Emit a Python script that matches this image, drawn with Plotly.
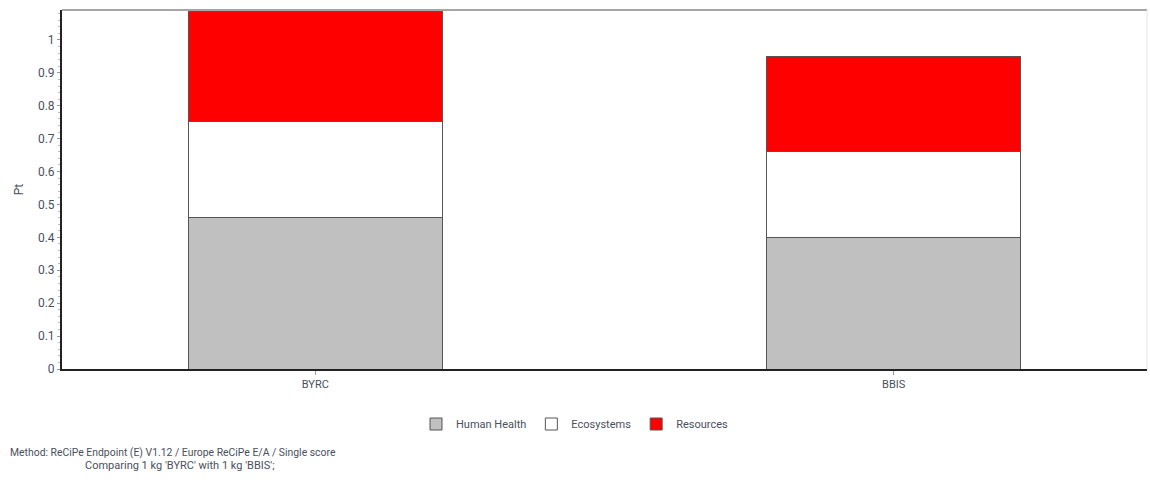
import plotly.graph_objects as go

# Single-score results per product (Pt)
products = ["BYRC", "BBIS"]
human_health = [0.459, 0.399]
ecosystems = [0.292, 0.261]
resources = [0.334, 0.291]

y_ticks = [0, 0.1, 0.2, 0.3, 0.4, 0.5, 0.6, 0.7, 0.8, 0.9, 1]

FONT = "Roboto, Liberation Sans, Arial, sans-serif"
TEXT = "#4a4f5c"
EDGE = dict(color="#555555", width=1)

fig = go.Figure()
fig.add_trace(go.Bar(name="Human Health", x=products, y=human_health,
                     marker=dict(color="#c0c0c0", line=EDGE), width=0.44))
fig.add_trace(go.Bar(name="Ecosystems", x=products, y=ecosystems,
                     marker=dict(color="#ffffff", line=EDGE), width=0.44))
fig.add_trace(go.Bar(name="Resources", x=products, y=resources,
                     marker=dict(color="#ff0000", line=EDGE), width=0.44))

fig.update_layout(
    barmode="stack",
    width=1150, height=498,
    margin=dict(l=62, r=3, t=10, b=129),
    plot_bgcolor="white", paper_bgcolor="white",
    font=dict(family=FONT, size=12, color=TEXT),
    showlegend=True,
    legend=dict(orientation="h", x=0.5, xref="container", xanchor="center",
                y=1 - 424 / 498, yref="container", yanchor="middle",
                font=dict(family=FONT, size=11, color=TEXT),
                itemwidth=30, traceorder="normal"),
    xaxis=dict(
        type="category", range=[-0.438, 1.438],
        showline=True, linecolor="#222222", linewidth=2,
        ticks="outside", ticklen=4, tickcolor="#999999",
        showgrid=False, zeroline=False,
        tickfont=dict(family=FONT, size=11, color=TEXT),
    ),
    yaxis=dict(
        range=[0, 1.091],
        tickvals=y_ticks,
        showline=True, linecolor="#222222", linewidth=2,
        ticks="outside", ticklen=3, tickcolor="#999999",
        minor=dict(dtick=0.02, ticks="outside", ticklen=2, tickcolor="#bbbbbb"),
        showgrid=False, zeroline=False,
        tickfont=dict(family=FONT, size=12, color=TEXT),
        title=dict(text="Pt", font=dict(family=FONT, size=12, color=TEXT), standoff=12),
    ),
    shapes=[
        dict(type="line", xref="paper", yref="paper", x0=0, x1=1, y0=1, y1=1,
             line=dict(color="#888888", width=1.5)),
        dict(type="line", xref="paper", yref="paper", x0=1, x1=1, y0=0, y1=1,
             line=dict(color="#e4e4e4", width=1)),
    ],
    annotations=[
        dict(text="Method: ReCiPe Endpoint (E) V1.12 / Europe ReCiPe E/A / Single score",
             xref="paper", yref="paper", x=-54 / 1085, y=-83 / 359,
             xanchor="left", yanchor="middle", showarrow=False,
             font=dict(family=FONT, size=10.4, color=TEXT)),
        dict(text="Comparing 1 kg 'BYRC' with 1 kg 'BBIS';",
             xref="paper", yref="paper", x=21 / 1085, y=-97 / 359,
             xanchor="left", yanchor="middle", showarrow=False,
             font=dict(family=FONT, size=11, color=TEXT)),
    ],
)

fig.write_html("out.html")
